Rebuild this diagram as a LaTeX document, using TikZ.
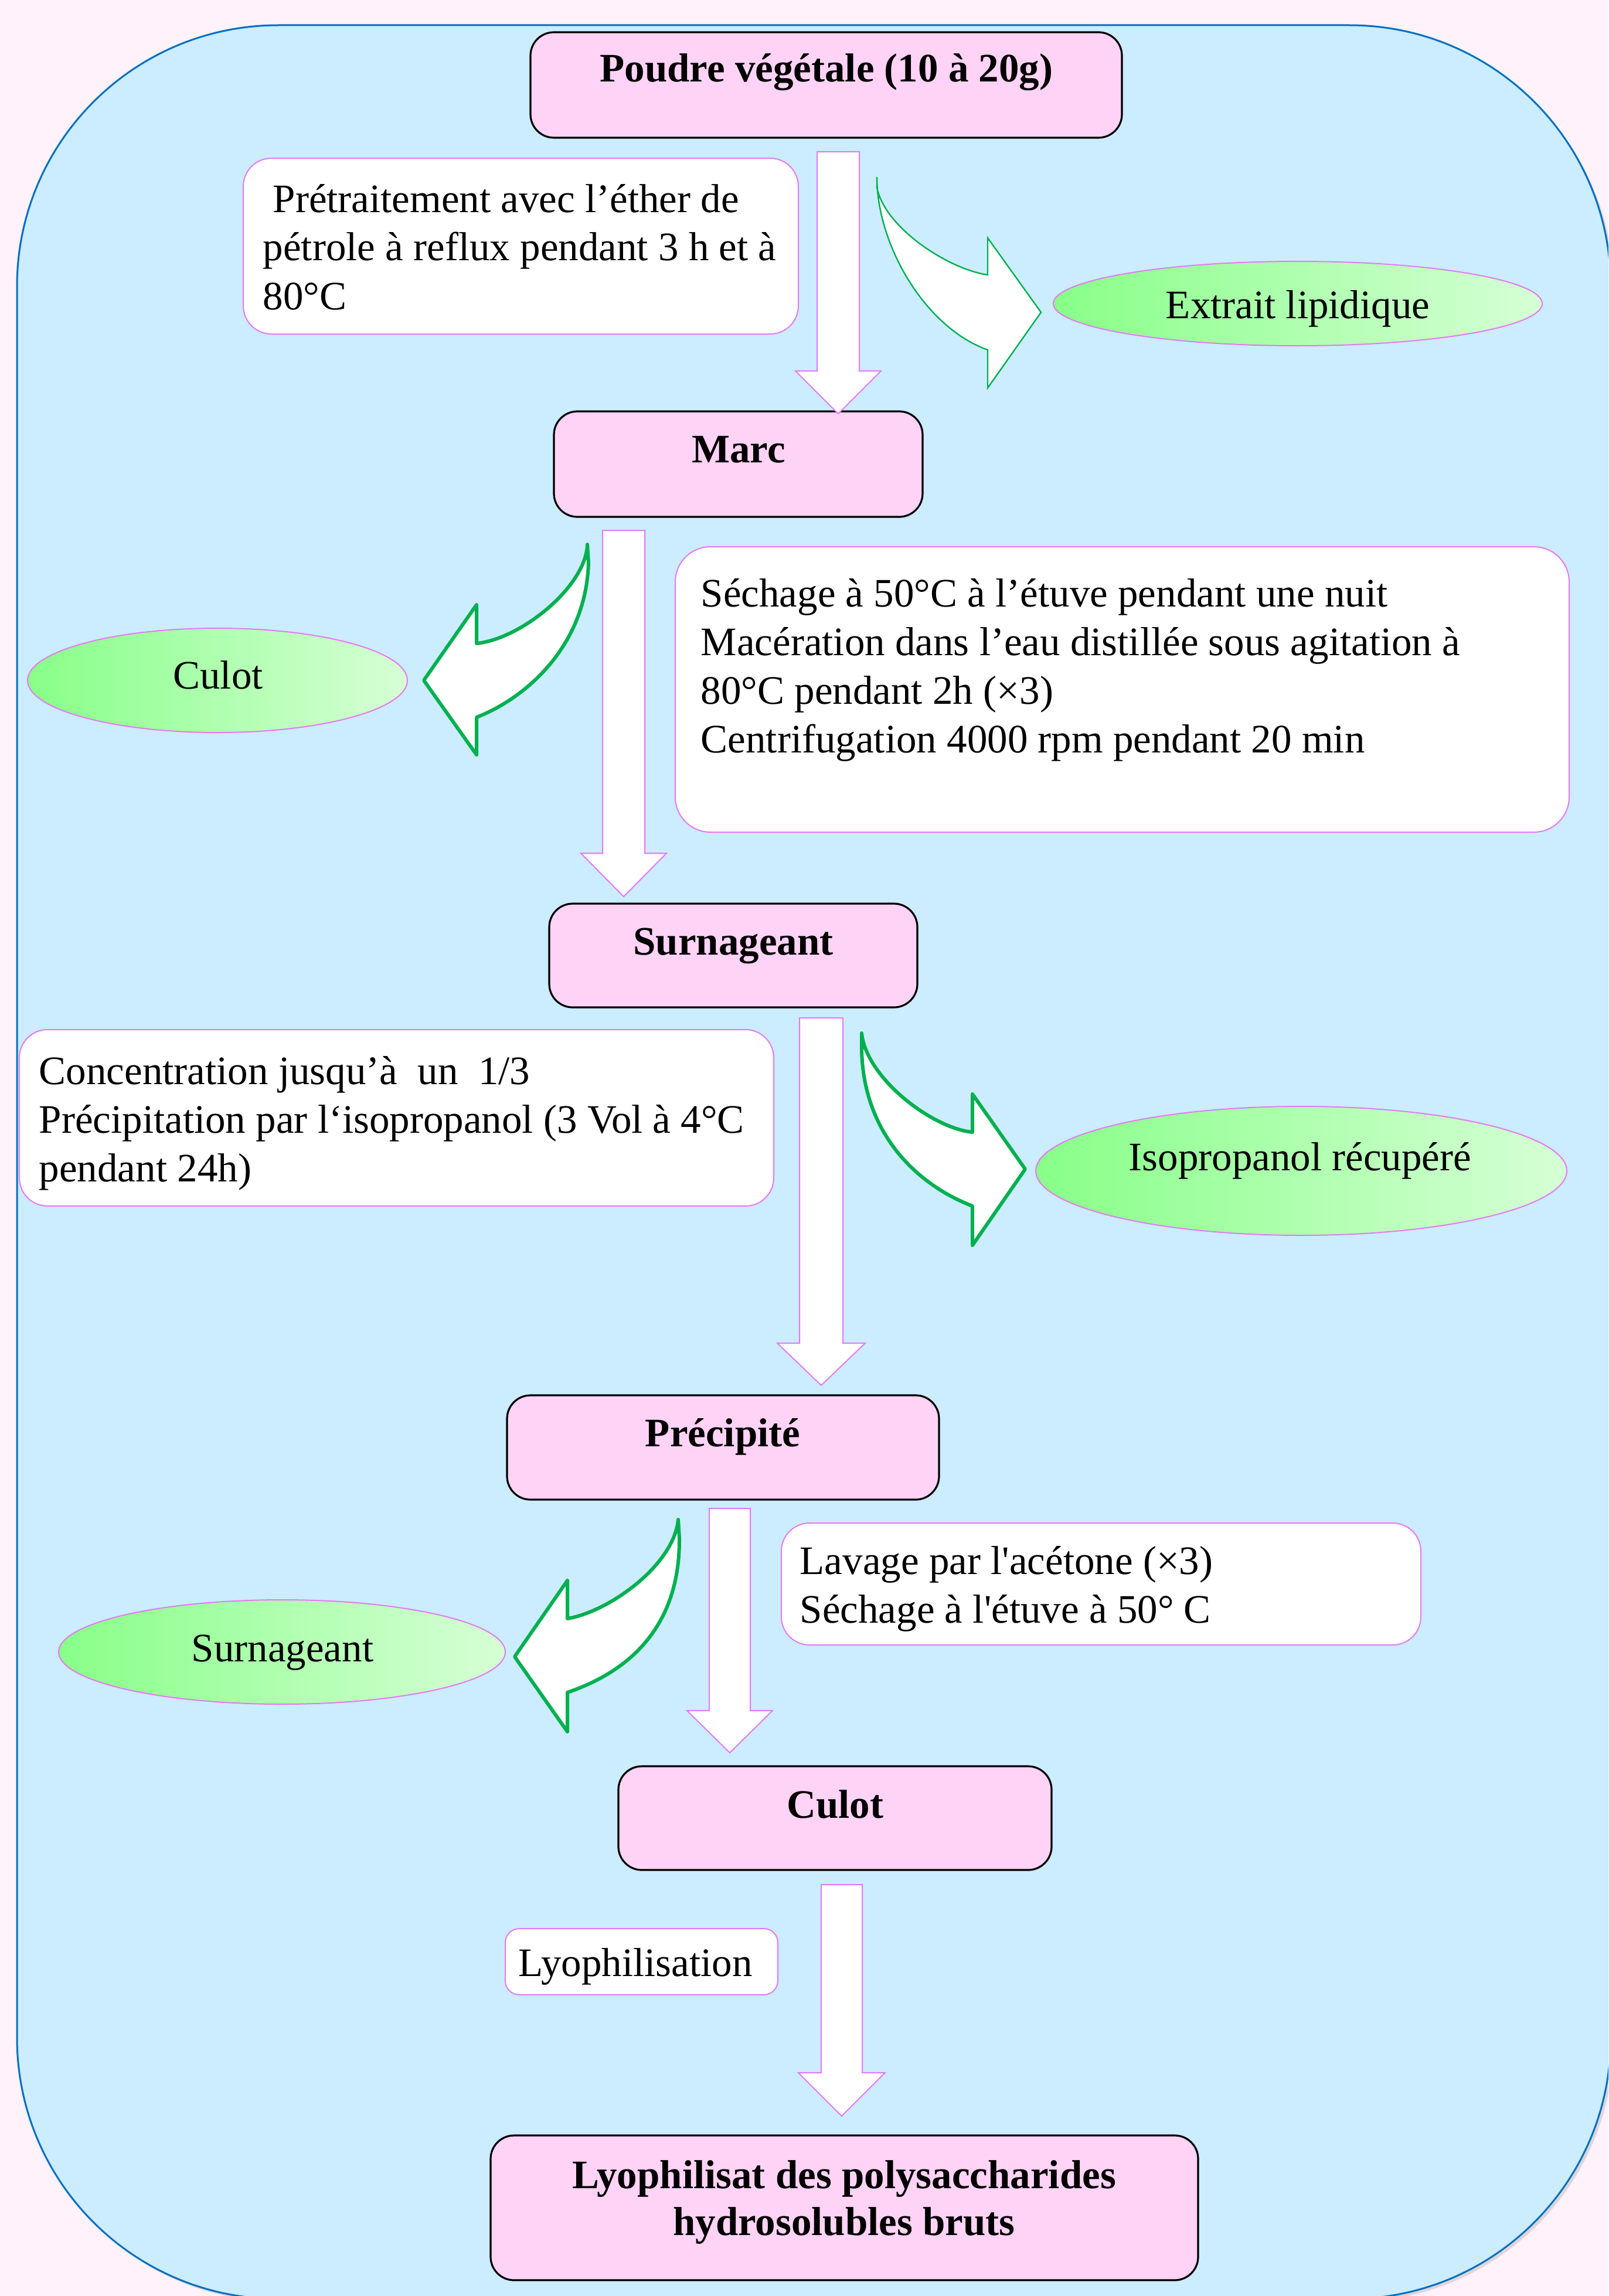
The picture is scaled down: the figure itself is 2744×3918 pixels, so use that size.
\documentclass[tikz,border=0pt]{standalone}
\usepackage{fontspec}
\setmainfont{Liberation Serif}
\usetikzlibrary{shapes.geometric,fit}
\definecolor{bgpink}{HTML}{FFF2FA}
\definecolor{panelblue}{HTML}{CCECFF}
\definecolor{panelline}{HTML}{0070C0}
\definecolor{titlepink}{HTML}{FFD3F5}
\definecolor{violetline}{HTML}{E679F7}
\definecolor{arrowgreen}{HTML}{00B050}
\definecolor{ellleft}{HTML}{88FF88}
\definecolor{ellright}{HTML}{D6FFD6}
\newcommand{\downblock}[6]{%
  \draw[blockarrow] ({#1-#2},#4) -- ({#1+#2},#4) -- ({#1+#2},#5) -- ({#1+#3},#5)
    -- (#1,#6) -- ({#1-#3},#5) -- ({#1-#2},#5) -- cycle;}
\begin{document}
\begin{tikzpicture}[x=0.25pt,y=-0.25pt,
  titlebox/.style={draw=black, line width=0.8pt, fill=titlepink, rounded corners=10pt, inner sep=0pt},
  stepbox/.style={draw=violetline, line width=0.5pt, fill=white, rounded corners=12pt, inner sep=0pt},
  prodell/.style={ellipse, draw=violetline, line width=0.5pt, left color=ellleft, right color=ellright, inner sep=0pt},
  ttl/.style={anchor=base, inner sep=0pt, font=\fontsize{17.25}{20}\selectfont\bfseries},
  txt/.style={anchor=base west, inner sep=0pt, align=flush left, text width=420pt, font=\fontsize{17.25}{20.75}\selectfont},
  lbl/.style={anchor=base, inner sep=0pt, font=\fontsize{17.25}{20.75}\selectfont},
  blockarrow/.style={draw=violetline, line width=0.5pt, fill=white, line join=miter},
  curvarrow/.style={draw=arrowgreen, line width=1.5pt, fill=white, line join=round},
  thincurv/.style={draw=arrowgreen, line width=0.6pt, fill=white, line join=miter}]
\useasboundingbox (0,0) rectangle (2744,3918);
\clip (0,0) rectangle (2744,3918);
\fill[bgpink] (0,0) rectangle (2744,3918);
% panel
\fill[black, opacity=0.12, rounded corners=111.5pt] (34,48) rectangle (2753,3928);
\draw[draw=panelline, fill=panelblue, line width=0.75pt, rounded corners=111.5pt] (29,43) rectangle (2748,3923);

% title boxes
\node[titlebox, fit={(905,55) (1914,235)}] (poudre) {};
\node[ttl] (poudreT) at (1410,140) {Poudre végétale (10 à 20g)};
\node[titlebox, fit={(945,702) (1574,882)}] (marc) {};
\node[ttl] (marcT) at (1260,789) {Marc};
\node[titlebox, fit={(937,1542) (1565,1719)}] (surn) {};
\node[ttl] (surnT) at (1251,1629) {Surnageant};
\node[titlebox, fit={(865,2381) (1602,2559)}] (precip) {};
\node[ttl] (precipT) at (1233,2468) {Précipité};
\node[titlebox, fit={(1055,3014) (1794,3191)}] (culot) {};
\node[ttl] (culotT) at (1425,3102) {Culot};
\node[titlebox, fit={(837,3644) (2044,3891)}] (lyoph) {};
\node[ttl, text width=300pt, align=flush center] (lyophT) at (1440,3734) {Lyophilisat des polysaccharides\\hydrosolubles bruts};

% step boxes
\node[stepbox, fit={(415,270) (1362,570)}] (pretr) {};
\node[txt] (pretrT) at (448,362) {\hspace*{4.25pt}Prétraitement avec l’éther de\\pétrole à reflux pendant 3 h et à\\80°C};
\node[stepbox, rounded corners=15pt, fit={(1152,933) (2677,1420)}] (sech) {};
\node[txt] (sechT) at (1195,1035) {Séchage à 50°C à l’étuve pendant une nuit\\Macération dans l’eau distillée sous agitation à\\80°C pendant 2h (×3)\\Centrifugation 4000 rpm pendant 20 min};
\node[stepbox, fit={(33,1757) (1320,2058)}] (conc) {};
\node[txt] (concT) at (66,1850) {Concentration jusqu’à~ un~ 1/3\\Précipitation par l‘isopropanol (3 Vol à 4°C\\pendant 24h)};
\node[stepbox, fit={(1333,2599) (2424,2807)}] (lav) {};
\node[txt] (lavT) at (1364,2686) {Lavage par l\textquotesingle acétone (×3)\\Séchage à l\textquotesingle étuve à 50° C};
\node[stepbox, rounded corners=6pt, fit={(862,3291) (1327,3404)}] (lyo) {};
\node[txt] (lyoT) at (884,3372) {Lyophilisation};

% product ellipses
\node[prodell, minimum width=208.5pt, minimum height=36pt] (extr) at (2214,518) {};
\node[lbl] (extrT) at (2214,543) {Extrait lipidique};
\node[prodell, minimum width=162pt, minimum height=44.5pt] (culotE) at (371,1161) {};
\node[lbl] (culotET) at (372,1175) {Culot};
\node[prodell, minimum width=226.5pt, minimum height=55pt] (iso) at (2220,1998) {};
\node[lbl] (isoT) at (2218,1997) {Isopropanol récupéré};
\node[prodell, minimum width=190.5pt, minimum height=44.5pt] (surnE) at (481,2819) {};
\node[lbl] (surnET) at (482,2835) {Surnageant};

% straight block arrows: cx, half shaft, half head, ytop, yhead, ytip
\downblock{1430}{36}{73}{259}{633}{706}
\downblock{1064}{36}{73}{905}{1456}{1530}
\downblock{1401}{37}{75}{1737}{2292}{2364}
\downblock{1245}{35}{73}{2574}{2919}{2991}
\downblock{1436}{35}{74}{3216}{3537}{3611}

% curved arrows
\draw[thincurv] (1496,302) -- (1496,320) .. controls (1510,390) and (1620,460) .. (1685,469)
  -- (1685,406) -- (1776,533) -- (1685,662) -- (1685,597)
  .. controls (1580,560) and (1496,420) .. (1496,302) -- cycle;
\draw[curvarrow] (1002,929) .. controls (1000,1000) and (890,1090) .. (813,1098)
  -- (813,1032) -- (723,1161) -- (813,1288) -- (813,1224)
  .. controls (900,1190) and (1000,1100) .. (1004,960) -- cycle;
\draw[curvarrow] (1470,1763) .. controls (1478,1840) and (1590,1925) .. (1659,1932)
  -- (1659,1867) -- (1749,1995) -- (1659,2125) -- (1659,2058)
  .. controls (1560,2020) and (1472,1930) .. (1470,1790) -- cycle;
\draw[curvarrow] (1157,2593) .. controls (1150,2670) and (1040,2750) .. (968,2762)
  -- (968,2697) -- (878,2827) -- (968,2955) -- (968,2888)
  .. controls (1080,2850) and (1160,2770) .. (1159,2625) -- cycle;
\end{tikzpicture}
\end{document}
